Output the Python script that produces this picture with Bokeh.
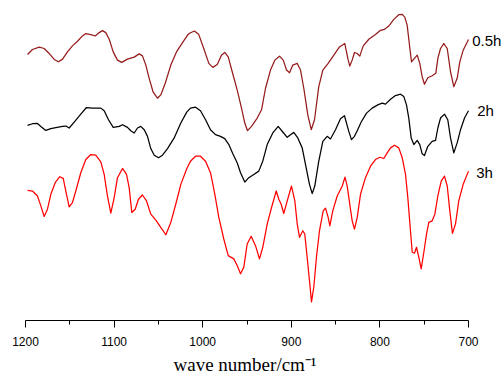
from bokeh.plotting import figure
from bokeh.models import Range1d, FixedTicker, Title, ColumnDataSource
from bokeh.core.properties import value
from bokeh.embed import file_html
from bokeh.resources import INLINE

# ---------------- data ----------------
wn_05h = [1197.7, 1192.1, 1184.5, 1178.9, 1173.3, 1167.6, 1162.8, 1158.2, 1152.6, 1147.0,
          1141.3, 1136.5, 1131.9, 1126.3, 1121.3, 1116.8, 1113.1, 1109.4, 1105.5, 1101.0,
          1096.2, 1091.3, 1084.9, 1077.3, 1071.7, 1068.0, 1064.2, 1060.4, 1055.9, 1051.0,
          1047.3, 1042.3, 1036.0, 1029.6, 1022.8, 1017.2, 1014.9, 1009.3, 1004.4, 998.8,
          993.1, 988.6, 983.6, 978.8, 975.1, 971.2, 966.7, 961.1, 956.2, 952.5,
          949.4, 944.9, 938.5, 933.6, 929.1, 923.5, 918.6, 913.3, 909.1, 905.4,
          902.0, 898.3, 893.3, 889.6, 885.9, 881.4, 877.5, 873.8, 869.0, 864.4,
          858.4, 852.0, 845.6, 839.6, 836.2, 834.0, 831.3, 828.7, 825.6, 822.7,
          818.8, 812.5, 805.0, 799.3, 794.8, 790.0, 784.3, 778.7, 774.8, 771.9,
          769.2, 766.6, 764.3, 761.0, 757.9, 755.0, 752.3, 749.7, 745.9, 741.0,
          736.9, 734.6, 731.6, 727.9, 724.0, 720.3, 716.6, 712.8, 709.8, 706.0,
          700.0]
t_05h = [275.7, 280.7, 283.0, 281.7, 276.7, 270.7, 268.3, 271.0, 278.3, 284.3,
         289.0, 293.7, 296.7, 295.7, 294.3, 297.7, 299.7, 297.7, 291.0, 278.3,
         270.0, 267.7, 271.0, 273.0, 276.3, 274.3, 265.0, 251.7, 237.7, 231.7,
         235.0, 246.7, 265.0, 278.3, 287.7, 295.0, 297.0, 299.3, 295.7, 281.7,
         266.7, 262.7, 265.7, 275.0, 277.7, 273.3, 258.3, 240.0, 221.7, 206.7,
         199.0, 203.3, 211.7, 220.0, 241.7, 260.0, 270.0, 274.0, 270.0, 260.0,
         257.3, 265.0, 266.7, 260.0, 241.7, 215.0, 200.0, 210.0, 243.3, 260.0,
         266.7, 275.0, 283.3, 286.7, 271.7, 264.0, 270.0, 277.7, 276.7, 274.0,
         284.3, 291.0, 295.7, 300.0, 301.0, 304.3, 311.0, 315.7, 316.0, 313.3,
         305.0, 285.0, 268.3, 271.7, 275.0, 266.7, 253.3, 245.7, 252.3, 254.3,
         256.7, 271.7, 281.7, 286.7, 281.7, 258.3, 243.3, 251.7, 268.3, 280.0,
         290.7]

wn_2h = [1197.7, 1192.1, 1186.5, 1182.7, 1177.1, 1171.4, 1165.8, 1158.2, 1154.5, 1150.7,
         1145.0, 1137.6, 1131.2, 1124.4, 1115.0, 1111.2, 1106.3, 1101.0, 1094.2, 1090.5,
         1084.9, 1081.2, 1077.3, 1073.6, 1069.9, 1066.0, 1062.3, 1058.6, 1054.7, 1049.9,
         1045.4, 1039.7, 1032.2, 1024.7, 1018.0, 1013.8, 1008.1, 1002.5, 996.8, 991.2,
         985.6, 979.9, 975.1, 970.5, 966.0, 961.1, 957.3, 952.5, 948.0, 942.3,
         936.7, 932.2, 927.2, 920.9, 914.8, 909.6, 904.6, 900.9, 897.2, 892.7,
         887.7, 883.2, 879.5, 876.4, 873.5, 869.0, 864.4, 859.5, 855.8, 850.1,
         844.5, 840.0, 835.1, 832.1, 828.7, 825.6, 821.1, 815.1, 808.7, 802.4,
         797.4, 793.7, 788.0, 782.4, 776.7, 773.0, 770.0, 767.4, 764.7, 761.7,
         757.9, 755.0, 752.3, 749.7, 745.9, 741.0, 737.2, 734.6, 731.6, 727.1,
         723.4, 720.3, 716.6, 712.8, 709.0, 704.5, 700.0]
t_2h = [204.3, 206.0, 206.3, 203.3, 199.3, 201.0, 202.0, 203.3, 203.7, 201.7,
        207.7, 215.7, 222.3, 221.7, 221.7, 219.0, 210.0, 202.3, 203.3, 205.0,
        202.3, 199.0, 196.7, 201.7, 203.3, 200.0, 193.3, 181.0, 174.3, 171.7,
        174.3, 181.0, 191.7, 206.7, 217.7, 221.7, 222.7, 219.0, 210.0, 200.0,
        195.0, 193.3, 191.0, 185.0, 175.7, 166.7, 156.7, 147.3, 151.7, 155.0,
        158.3, 168.3, 185.0, 196.7, 203.3, 197.7, 192.3, 195.0, 197.3, 191.7,
        181.7, 161.7, 145.0, 135.7, 143.3, 168.3, 188.3, 193.3, 190.7, 200.0,
        211.0, 214.0, 198.3, 190.0, 193.3, 199.0, 207.7, 216.7, 221.7, 225.0,
        226.7, 225.7, 230.7, 234.3, 235.7, 233.3, 225.0, 211.7, 191.7, 185.0,
        189.3, 185.0, 175.7, 174.0, 183.3, 188.3, 189.3, 201.7, 211.7, 215.7,
        210.0, 191.7, 176.7, 186.7, 200.0, 211.7, 219.0]

wn_3h = [1197.7, 1192.1, 1186.5, 1182.7, 1178.9, 1175.2, 1171.4, 1166.5, 1161.3, 1157.4,
         1154.5, 1150.7, 1147.0, 1143.2, 1137.6, 1131.9, 1126.3, 1120.7, 1115.0, 1111.2,
         1107.5, 1103.7, 1099.9, 1096.2, 1090.5, 1086.0, 1083.0, 1080.0, 1076.2, 1072.5,
         1068.0, 1063.4, 1058.6, 1052.9, 1047.3, 1041.6, 1036.0, 1030.4, 1024.7, 1018.0,
         1013.8, 1008.1, 1002.5, 996.8, 991.2, 986.3, 981.8, 976.2, 971.2, 964.9,
         961.1, 957.3, 953.6, 949.8, 945.3, 940.4, 935.9, 932.2, 927.2, 922.3,
         917.0, 914.1, 911.4, 908.5, 904.6, 899.8, 896.0, 893.3, 890.7, 887.0,
         884.8, 882.1, 879.5, 877.2, 874.6, 871.6, 868.2, 864.0, 861.4, 858.4,
         856.5, 853.2, 848.2, 842.5, 839.4, 836.9, 834.0, 831.3, 828.7, 825.6,
         821.9, 816.3, 810.6, 805.0, 800.1, 795.6, 791.8, 788.0, 783.5, 778.7,
         774.8, 771.1, 768.5, 765.5, 763.5, 761.0, 758.7, 756.1, 753.4, 750.4,
         747.4, 744.8, 741.0, 738.0, 734.6, 730.8, 727.1, 724.0, 721.1, 718.1,
         714.7, 711.0, 706.0, 700.0]
t_3h = [139.0, 138.3, 133.3, 123.3, 112.7, 120.0, 135.0, 146.7, 152.7, 151.0,
        138.3, 122.3, 126.7, 138.3, 156.7, 170.0, 175.0, 174.3, 167.7, 155.0,
        133.3, 116.0, 131.7, 151.7, 161.0, 155.0, 141.7, 116.7, 120.0, 130.0,
        134.3, 128.3, 115.0, 109.0, 101.7, 94.3, 106.7, 125.0, 145.0, 160.7,
        168.3, 173.3, 173.3, 168.3, 156.7, 135.0, 111.7, 90.0, 73.3, 70.0,
        63.3, 55.0, 61.7, 85.0, 92.7, 83.3, 70.0, 81.7, 105.0, 121.7,
        138.3, 130.0, 125.0, 115.7, 128.3, 143.3, 128.3, 105.0, 91.7, 98.3,
        95.0, 71.7, 48.3, 26.7, 41.7, 71.7, 98.3, 118.3, 121.0, 111.7,
        103.3, 118.3, 133.3, 143.3, 152.3, 143.3, 125.0, 108.3, 100.0, 111.7,
        135.0, 151.7, 163.3, 170.0, 172.3, 171.0, 176.7, 181.7, 184.3, 181.7,
        171.7, 155.0, 131.7, 98.3, 76.7, 75.7, 81.7, 71.7, 60.0, 76.7,
        95.0, 106.7, 108.3, 115.0, 133.3, 148.3, 153.3, 143.3, 118.3, 95.7,
        105.0, 128.3, 145.0, 158.3]

series_names = ["0.5h", "2h", "3h"]
major_ticks = [1200, 1100, 1000, 900, 800, 700]
minor_ticks = [1150, 1050, 950, 850, 750]

# ---------------- figure ----------------
p = figure(width=503, height=378, output_backend="svg", toolbar_location=None,
           x_range=Range1d(1200, 660.5), y_range=Range1d(8, 330),
           y_axis_location=None, min_border_left=25, min_border_right=0,
           min_border_top=0, min_border_bottom=56)
p.outline_line_color = None
p.xgrid.visible = False
p.ygrid.visible = False
p.background_fill_color = "white"
p.border_fill_color = "white"

colors = ["#951B1B", "#000000", "#FF0000"]
for wn, t, c in zip([wn_05h, wn_2h, wn_3h], [t_05h, t_2h, t_3h], colors):
    p.line(wn, t, line_color=c, line_width=1.25, line_join="round")

# series labels at the right end of each trace
lab = ColumnDataSource(dict(x=[695.8, 690.2, 691.3], y=[290, 219, 157], text=series_names))
p.text(x="x", y="y", text="text", source=lab, text_font=value("Liberation Sans"),
       text_font_size=value("15px"), text_baseline="middle", text_align="left",
       text_color="black")

ax = p.xaxis[0]
ax.bounds = (700, 1200)
ax.ticker = FixedTicker(ticks=major_ticks, minor_ticks=minor_ticks)
ax.axis_line_color = "black"
ax.axis_line_width = 1
ax.major_tick_out = 7
ax.major_tick_in = 0
ax.minor_tick_out = 4
ax.minor_tick_in = 0
ax.major_tick_line_color = "black"
ax.minor_tick_line_color = "black"
ax.major_label_text_font = "Liberation Sans"
ax.major_label_text_font_size = "12px"
ax.major_label_text_color = "black"
ax.major_label_standoff = 9

p.add_layout(Title(text="wave number/cm\u207b\u00b9", align="left", offset=148,
                   text_font="Liberation Serif", text_font_style="normal",
                   text_font_size="19px", text_color="black", standoff=7), "below")

open("out.html", "w").write(file_html(p, INLINE))
